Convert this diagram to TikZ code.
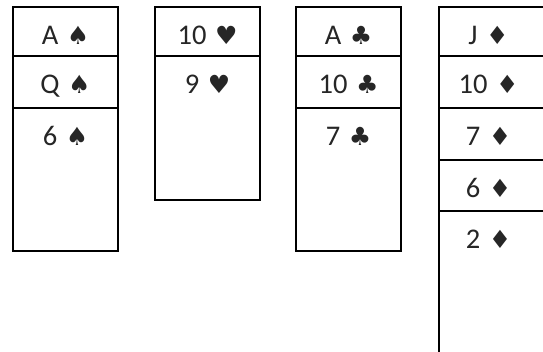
\documentclass[tikz,border=0pt]{standalone}
\usepackage{fontspec}
\setmainfont{Carlito}
\newfontfamily\suitfont{DejaVu Sans}
\begin{document}
\begin{tikzpicture}[x=1pt,y=-1pt,
  cell/.style={draw=black, line width=1.3pt, minimum width=105pt, inner sep=0pt, outer sep=0pt, anchor=north west},
  lab/.style={anchor=base, font=\fontsize{28.5}{30}\selectfont, text=black!85, inner sep=0pt}]
\clip (0,0) rectangle (543,352);
\fill[white] (0,0) rectangle (543,352);
% column 1 (spades)
\node[cell, minimum height=49pt] (s1) at (13,7) {};
\node[cell, minimum height=52pt] (s2) at (13,56) {};
\node[cell, minimum height=143pt] (s3) at (13,108) {};
% column 2 (hearts)
\node[cell, minimum height=49pt] (h1) at (155,7) {};
\node[cell, minimum height=144pt] (h2) at (155,56) {};
% column 3 (clubs)
\node[cell, minimum height=49pt] (c1) at (296,7) {};
\node[cell, minimum height=52pt] (c2) at (296,56) {};
\node[cell, minimum height=143pt] (c3) at (296,108) {};
% column 4 (diamonds)
\node[cell, minimum height=49pt] (d1) at (439,7) {};
\node[cell, minimum height=52pt] (d2) at (439,56) {};
\node[cell, minimum height=52pt] (d3) at (439,108) {};
\node[cell, minimum height=51pt] (d4) at (439,160) {};
\node[cell, minimum height=160pt] (d5) at (439,211) {};
% labels
\foreach \n/\t/\s in {s1/A/♠, s2/Q/♠, s3/6/♠, h1/10/♥, h2/9/♥, c1/A/♣, c2/10/♣, c3/7/♣}{
  \node[lab] (l\n) at ([yshift=-38pt]\n.north) {\t\hspace{0.3em}{\suitfont\fontsize{25}{26}\selectfont\s}};
}
\foreach \n/\t/\s in {d1/J/♦, d2/10/♦, d3/7/♦, d4/6/♦, d5/2/♦}{
  \node[lab] (l\n) at ([xshift=-3pt,yshift=-38pt]\n.north) {\t\hspace{0.3em}{\suitfont\fontsize{25}{26}\selectfont\s}};
}
\end{tikzpicture}
\end{document}
